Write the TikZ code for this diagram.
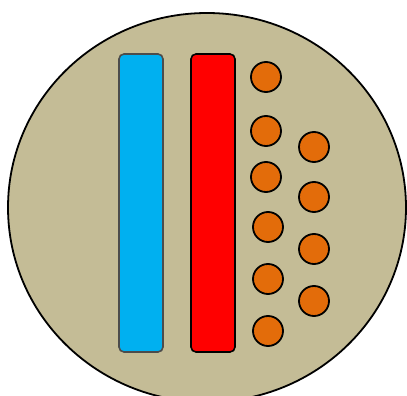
\documentclass[tikz,border=0pt]{standalone}
\usetikzlibrary{shapes.geometric}
\definecolor{tan}{HTML}{C4BC96}
\definecolor{cyanbar}{HTML}{00B0F0}
\definecolor{orangedot}{HTML}{E36C0A}
\begin{document}
\begin{tikzpicture}[x=1pt,y=-1pt,
  bar/.style={draw, rounded corners=5pt, minimum width=44pt, minimum height=298pt, inner sep=0pt, line width=1.6pt},
  dot/.style={circle, draw=black, fill=orangedot, minimum size=30pt, inner sep=0pt, line width=1.8pt}]
\useasboundingbox (0,0) rectangle (407,396);
\clip (0,0) rectangle (407,396);
\node[ellipse, draw=black, fill=tan, line width=1.8pt, minimum width=398pt, minimum height=389pt, inner sep=0pt] (disc) at (207,207.5) {};
\node[bar, fill=cyanbar, draw=black!70] (blue) at (141,203) {};
\node[bar, fill=red, draw=black] (redbar) at (213,203) {};
\node[dot] (a1) at (266,77) {};
\node[dot] (a2) at (266,131) {};
\node[dot] (a3) at (266,177) {};
\node[dot] (a4) at (268,227) {};
\node[dot] (a5) at (268,279) {};
\node[dot] (a6) at (268,331) {};
\node[dot] (b1) at (314,147) {};
\node[dot] (b2) at (314,197) {};
\node[dot] (b3) at (314,249) {};
\node[dot] (b4) at (314,301) {};
\end{tikzpicture}
\end{document}
